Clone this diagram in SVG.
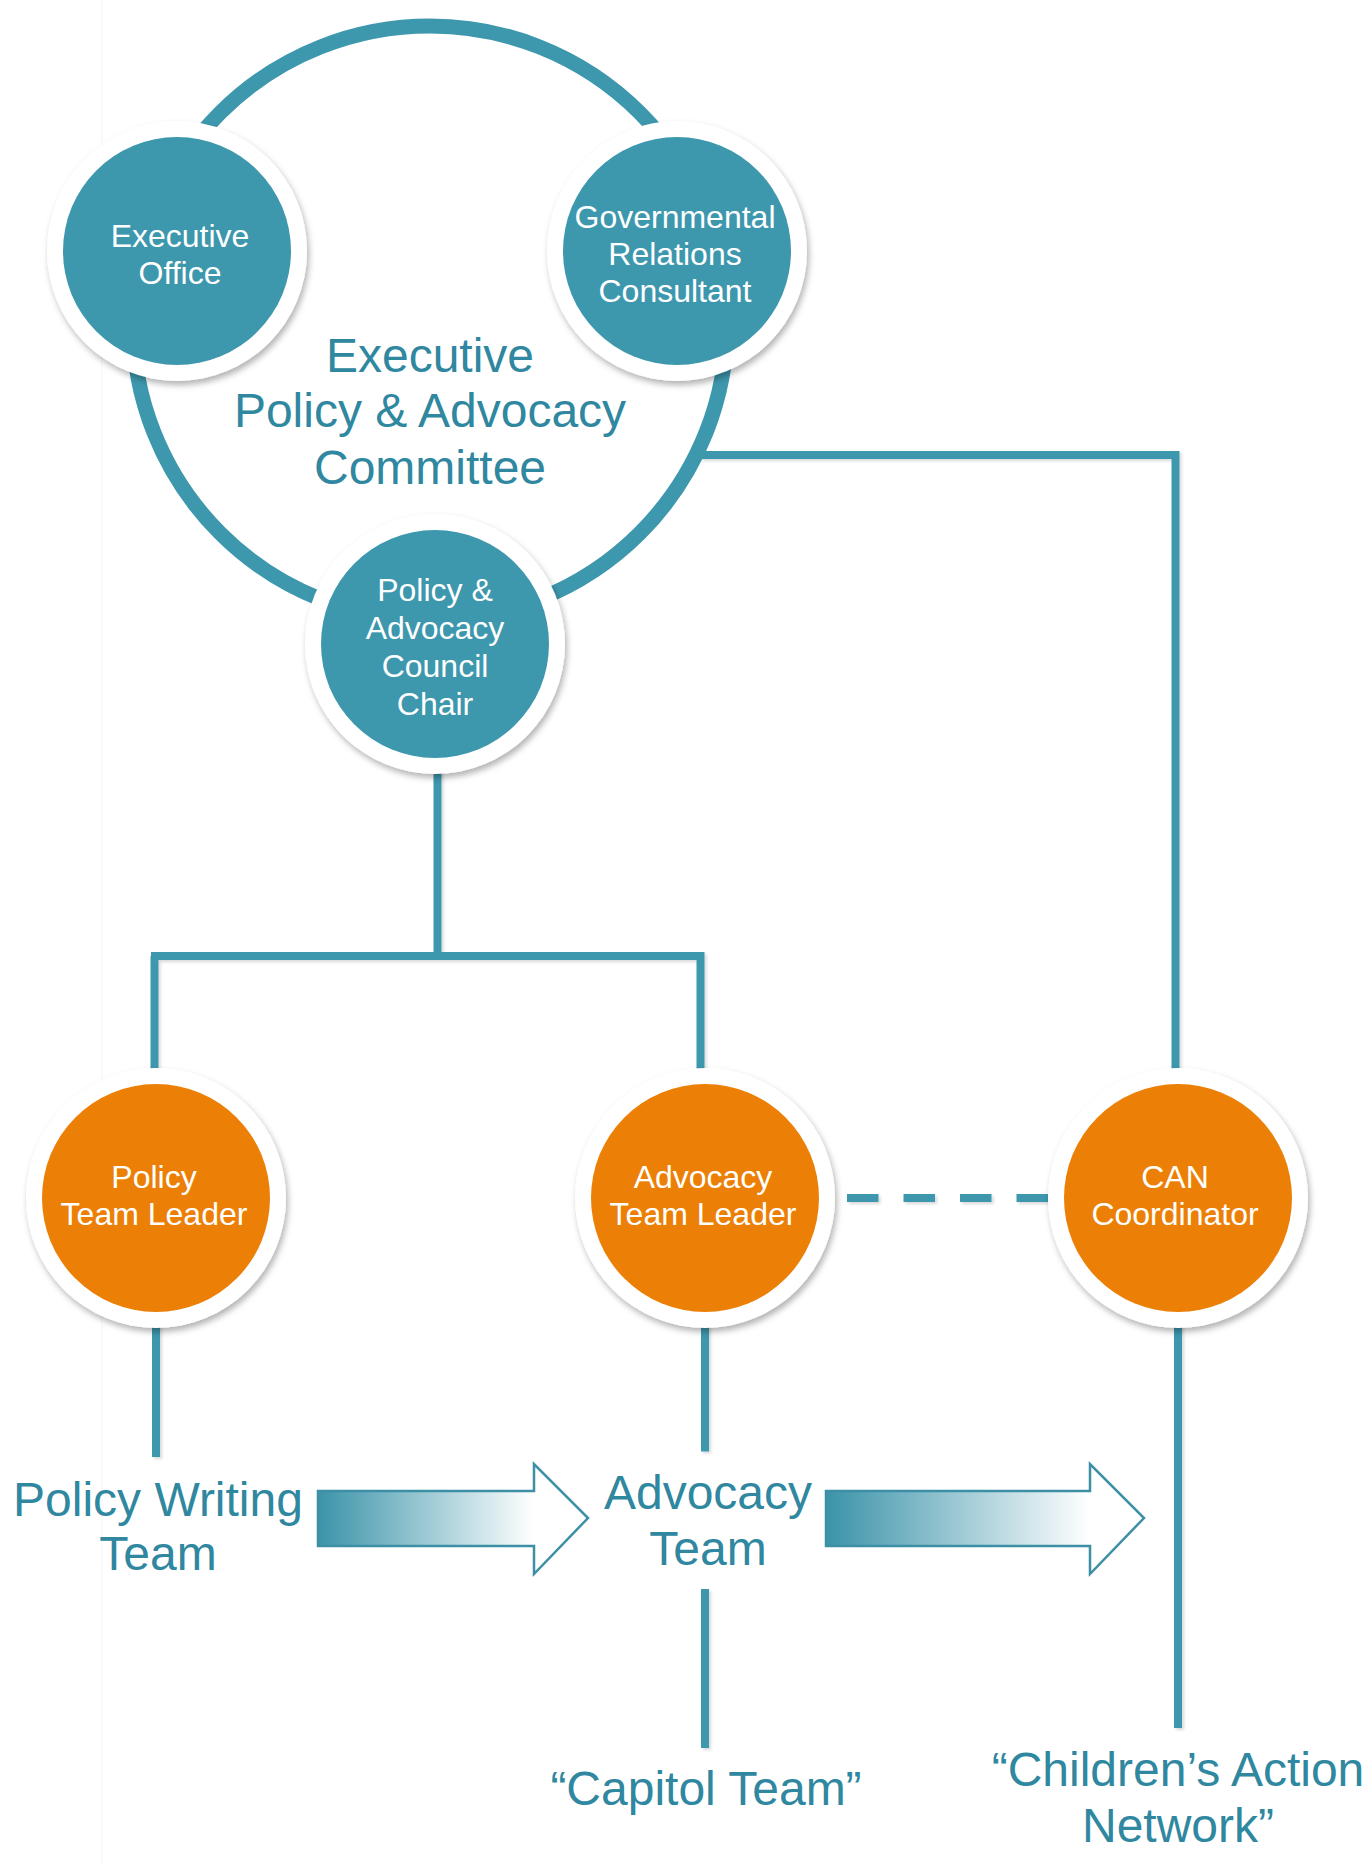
<svg xmlns="http://www.w3.org/2000/svg" width="1372" height="1865" viewBox="0 0 1372 1865">
<defs>
<style>
.line{fill:none;stroke:#3d97ad;stroke-width:8;filter:url(#lsh)}
.ring{fill:#ffffff;filter:url(#sh)}
.teal{fill:#3d97ad}
.orange{fill:#ec7f05}
.wt{fill:#ffffff;font-family:"Liberation Sans",Arial,sans-serif;font-size:32px;text-anchor:middle}
.bt{fill:#2f87a0;font-family:"Liberation Sans",Arial,sans-serif;font-size:48px;text-anchor:middle}
.arrow{stroke:#3d8fa5;stroke-width:2.5;stroke-linejoin:miter}
</style>
<filter id="sh" x="-20%" y="-20%" width="140%" height="140%">
<feDropShadow dx="2" dy="4" stdDeviation="3" flood-color="#000" flood-opacity="0.3"/>
</filter>
<filter id="lsh" filterUnits="userSpaceOnUse" x="0" y="0" width="1372" height="1865">
<feDropShadow dx="2" dy="2" stdDeviation="1.5" flood-color="#000" flood-opacity="0.15"/>
</filter>
<linearGradient id="g1" gradientUnits="userSpaceOnUse" x1="318" y1="0" x2="534" y2="0">
<stop offset="0" stop-color="#3b93a9"/><stop offset="1" stop-color="#ffffff"/>
</linearGradient>
<linearGradient id="g2" gradientUnits="userSpaceOnUse" x1="826" y1="0" x2="1090" y2="0">
<stop offset="0" stop-color="#3b93a9"/><stop offset="1" stop-color="#ffffff"/>
</linearGradient>
</defs>
<rect x="0" y="0" width="1372" height="1865" fill="#ffffff"/>
<rect x="101.5" y="0" width="1" height="1865" fill="#f6f6f6"/>

<g id="connectors">
<path class="line" d="M700,455 H1175.5 V1080"/>
<path class="line" d="M437.5,770 V956 M151,956 H704.5 M154.5,956 V1080 M700.5,956 V1080"/>
<path class="line" d="M847,1198 H1070" stroke-dasharray="31.5 25"/>
<path class="line" d="M156,1320 V1457"/>
<path class="line" d="M705,1320 V1451.5 M705,1589 V1748"/>
<path class="line" d="M1178,1320 V1728"/>
<polygon class="arrow" fill="url(#g1)" points="318,1491 534,1491 534,1464 588,1518 534,1574 534,1546 318,1546"/>
<polygon class="arrow" fill="url(#g2)" points="826,1491 1090,1491 1090,1464 1144,1518 1090,1574 1090,1546 826,1546"/>
</g>

<g id="committee">
<circle cx="430" cy="323" r="297" fill="#ffffff" stroke="#3d97ad" stroke-width="15"/>
<text class="bt" x="430" y="372">Executive</text>
<text class="bt" x="430" y="427">Policy &amp; Advocacy</text>
<text class="bt" x="430" y="484">Committee</text>
</g>

<g id="executive-office">
<circle class="ring" cx="177" cy="251" r="130"/>
<circle class="teal" cx="177" cy="251" r="114"/>
<text class="wt" x="180" y="247">Executive</text>
<text class="wt" x="180" y="283.5">Office</text>
</g>

<g id="governmental-relations">
<circle class="ring" cx="677" cy="251" r="130"/>
<circle class="teal" cx="677" cy="251" r="114"/>
<text class="wt" x="675" y="227.5">Governmental</text>
<text class="wt" x="675" y="265">Relations</text>
<text class="wt" x="675" y="302">Consultant</text>
</g>

<g id="council-chair">
<circle class="ring" cx="435" cy="644" r="130"/>
<circle class="teal" cx="435" cy="644" r="114"/>
<text class="wt" x="435" y="601">Policy &amp;</text>
<text class="wt" x="435" y="639">Advocacy</text>
<text class="wt" x="435" y="677">Council</text>
<text class="wt" x="435" y="715">Chair</text>
</g>

<g id="policy-team-leader">
<circle class="ring" cx="156" cy="1198" r="130"/>
<circle class="orange" cx="156" cy="1198" r="114"/>
<text class="wt" x="154" y="1188">Policy</text>
<text class="wt" x="154" y="1225">Team Leader</text>
</g>

<g id="advocacy-team-leader">
<circle class="ring" cx="705" cy="1198" r="130"/>
<circle class="orange" cx="705" cy="1198" r="114"/>
<text class="wt" x="703" y="1188">Advocacy</text>
<text class="wt" x="703" y="1225">Team Leader</text>
</g>

<g id="can-coordinator">
<circle class="ring" cx="1178" cy="1198" r="130"/>
<circle class="orange" cx="1178" cy="1198" r="114"/>
<text class="wt" x="1175" y="1188">CAN</text>
<text class="wt" x="1175" y="1225">Coordinator</text>
</g>

<g id="policy-writing-team">
<text class="bt" x="158" y="1516">Policy Writing</text>
<text class="bt" x="158" y="1570">Team</text>
</g>

<g id="advocacy-team">
<text class="bt" x="708" y="1509">Advocacy</text>
<text class="bt" x="708" y="1565">Team</text>
</g>

<g id="capitol-team">
<text class="bt" x="706" y="1805">“Capitol Team”</text>
</g>

<g id="childrens-action-network">
<text class="bt" x="1178" y="1786">“Children’s Action</text>
<text class="bt" x="1178" y="1842">Network”</text>
</g>
</svg>
